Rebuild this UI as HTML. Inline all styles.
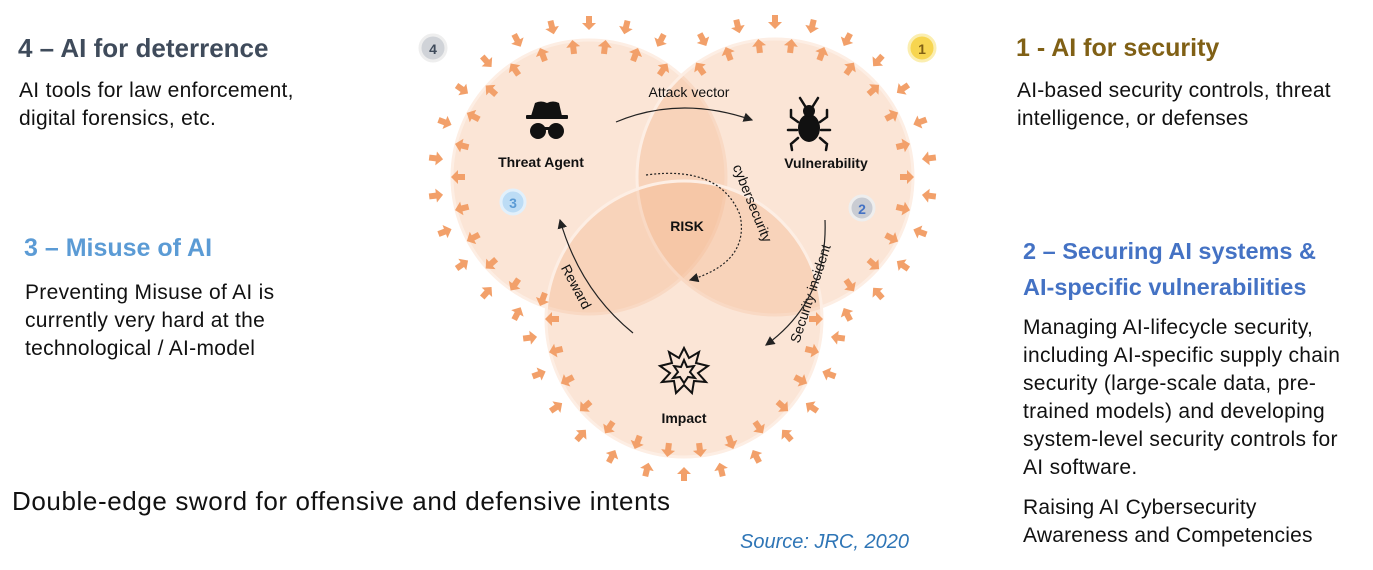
<!DOCTYPE html>
<html><head><meta charset="utf-8">
<style>
body{margin:0;width:1373px;height:570px;background:#fff;overflow:hidden;position:relative;font-family:"Liberation Sans",sans-serif;}
.t{position:absolute;white-space:nowrap;}
.h{font-weight:bold;font-size:23px;}
.b{font-size:21px;color:#111;line-height:28px;letter-spacing:0.3px;}
svg{position:absolute;left:0;top:0;}
</style></head><body>
<div class="t h" style="left:18px;top:33px;color:#3f4b5b;font-size:26px">4 – AI for deterrence</div>
<div class="t b" style="left:19px;top:77px">AI tools for law enforcement,<br>digital forensics, etc.</div>
<div class="t h" style="left:24px;top:234px;color:#5b9bd5;font-size:25px">3 – Misuse of AI</div>
<div class="t b" style="left:25px;top:279px">Preventing Misuse of AI is<br>currently very hard at the<br>technological / AI-model</div>
<div class="t h" style="left:1016px;top:34px;color:#806015;font-size:25px">1 - AI for security</div>
<div class="t b" style="left:1017px;top:77px;letter-spacing:0.2px">AI-based security controls, threat<br>intelligence, or defenses</div>
<div class="t h" style="left:1023px;top:233px;color:#4472c4;line-height:36px;font-size:23.5px">2 – Securing AI systems &amp;<br>AI-specific vulnerabilities</div>
<div class="t b" style="left:1023px;top:314px;letter-spacing:0.3px">Managing AI-lifecycle security,<br>including AI-specific supply chain<br>security (large-scale data, pre-<br>trained models) and developing<br>system-level security controls for<br>AI software.</div>
<div class="t b" style="left:1023px;top:494px;letter-spacing:0.2px">Raising AI Cybersecurity<br>Awareness and Competencies</div>
<div class="t" style="left:12px;top:486px;font-size:26px;color:#111;letter-spacing:0.6px">Double-edge sword for offensive and defensive intents</div>
<div class="t" style="left:740px;top:531px;font-size:20px;font-style:italic;color:#2e75b6">Source: JRC, 2020</div>

<svg id="s" width="1373" height="570" viewBox="0 0 1373 570">
<defs><marker id="ah" markerWidth="8" markerHeight="8" refX="7" refY="4" orient="auto"><path d="M0,0 L8,4 L0,8 z" fill="#222"/></marker></defs>
<g fill="#f4b183" fill-opacity="0.33" stroke="#fdeee4" stroke-width="3">
<circle cx="589" cy="177" r="137"/>
<circle cx="775" cy="177" r="138"/>
<circle cx="684" cy="319" r="138"/>
</g>
<g id="arrows"></g>
<circle cx="433" cy="48" r="13" fill="#d0d3d8" stroke="#eee" stroke-width="3"/><text x="433" y="54" text-anchor="middle" font-size="14" font-weight="bold" fill="#3f4b5b" font-family="Liberation Sans">4</text>
<circle cx="922" cy="48" r="13" fill="#f7d550" stroke="#fbeeb0" stroke-width="3"/><text x="922" y="54" text-anchor="middle" font-size="14" font-weight="bold" fill="#806015" font-family="Liberation Sans">1</text>
<circle cx="513" cy="202" r="12" fill="#bcdcf5" stroke="#e2f0fb" stroke-width="3"/><text x="513" y="208" text-anchor="middle" font-size="14" font-weight="bold" fill="#5b9bd5" font-family="Liberation Sans">3</text>
<circle cx="862" cy="208" r="12" fill="#c9ccd3" stroke="#eee" stroke-width="3"/><text x="862" y="214" text-anchor="middle" font-size="14" font-weight="bold" fill="#4472c4" font-family="Liberation Sans">2</text>
<g fill="#111">
<path d="M531,116 L535,103 Q541,100 547,103 Q553,100 559,103 L562,116 Z"/>
<rect x="526" y="115" width="42" height="4" rx="1"/>
<circle cx="538" cy="131" r="8"/><circle cx="556" cy="131" r="8"/>
<rect x="538" y="127" width="18" height="3"/>
</g>
<g fill="#111" stroke="#111" stroke-width="2.5" stroke-linecap="round">
<ellipse cx="809" cy="128" rx="11" ry="14" stroke="none"/>
<circle cx="809" cy="111" r="6" stroke="none"/>
<path d="M805,106 L800,98 M813,106 L818,98 M798,122 L791,117 L791,110 M820,122 L827,117 L827,110 M797,130 L788,130 M821,130 L830,130 M798,138 L791,144 L792,150 M820,138 L827,144 L826,150" fill="none"/>
</g>
<g fill="none" stroke="#111" stroke-width="2">
<path d="M684,348 L689,358 L699,352 L696,363 L708,366 L698,373 L706,382 L694,381 L692,393 L684,385 L676,393 L674,381 L662,382 L670,373 L660,366 L672,363 L669,352 L679,358 Z"/>
<path d="M684,360 L687,367 L694,366 L690,372 L695,378 L688,377 L684,383 L680,377 L673,378 L678,372 L674,366 L681,367 Z"/>
</g>
<g font-family="Liberation Sans" fill="#111" text-anchor="middle">
<text x="689" y="97" font-size="14">Attack vector</text>
<text x="541" y="167" font-size="14" font-weight="bold">Threat Agent</text>
<text x="826" y="168" font-size="14" font-weight="bold">Vulnerability</text>
<text x="687" y="231" font-size="14" font-weight="bold">RISK</text>
<text x="684" y="423" font-size="14" font-weight="bold">Impact</text>
<text font-size="14" transform="translate(748,205) rotate(68)">cybersecurity</text>
<text font-size="14" transform="translate(815,295) rotate(-72)">Security incident</text>
<text font-size="14" transform="translate(572,289) rotate(62)">Reward</text>
</g>
<g fill="none" stroke="#222" stroke-width="1.2">
<path d="M616,122 Q680,95 752,120" marker-end="url(#ah)"/>
<path d="M825,220 Q828,300 766,345" marker-end="url(#ah)"/>
<path d="M633,333 Q580,290 560,220" marker-end="url(#ah)"/>
<path d="M646,175 Q720,165 740,215 Q750,262 690,280" stroke-dasharray="2,2" marker-end="url(#ah)"/>
</g>
</svg>
<script>
(function(){
var C=[[589,177,137],[775,177,138],[684,319,138]];
var g=document.getElementById('arrows');var h='';
function inside(x,y,skip,m){for(var i=0;i<3;i++){if(i==skip)continue;var d=Math.hypot(x-C[i][0],y-C[i][1]);if(d<C[i][2]+m)return true;}return false;}
function arr(x,y,a){return '<path transform="translate('+x.toFixed(1)+','+y.toFixed(1)+') rotate('+a.toFixed(1)+')" d="M-7,-3 L0,-3 L0,-7 L7,0 L0,7 L0,3 L-7,3 Z" fill="#f2a06a"/>';}
var N=26;
for(var i=0;i<3;i++){var c=C[i];
 for(var k=0;k<N;k++){var t=k*2*Math.PI/N;
  var r1=c[2]-6,x=c[0]+r1*Math.cos(t),y=c[1]+r1*Math.sin(t);
  if(!inside(x,y,i,4))h+=arr(x,y,t*180/Math.PI);
  var t2=t+Math.PI/N,r2=c[2]+17,x2=c[0]+r2*Math.cos(t2),y2=c[1]+r2*Math.sin(t2);
  if(!inside(x2,y2,i,6)&&y2>16)h+=arr(x2,y2,t2*180/Math.PI+180);
 }}
g.innerHTML=h;
})();
</script>
</body></html>
